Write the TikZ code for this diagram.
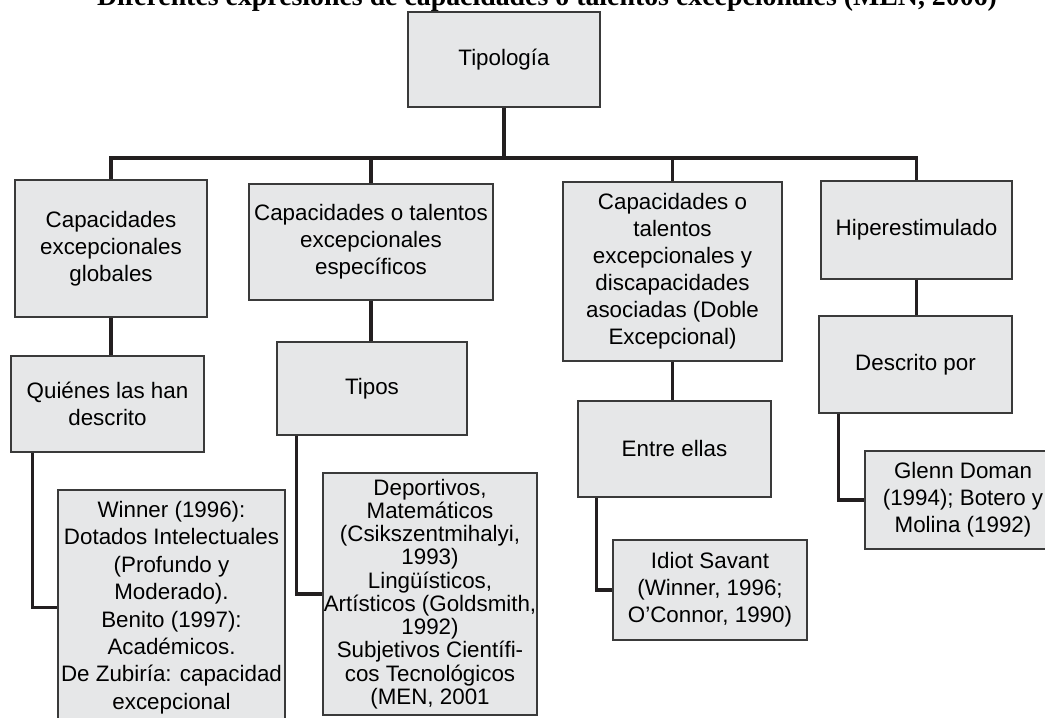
\documentclass[tikz,border=0pt]{standalone}
\usepackage{fontspec}
\setmainfont{Liberation Sans}
\newfontfamily\titlefont{Liberation Serif}
\usepackage{xcolor}

\definecolor{boxgray}{HTML}{E6E7E8}
\definecolor{edgegray}{HTML}{3A3A3A}
\definecolor{linkblack}{HTML}{231F20}

\begin{document}
\begin{tikzpicture}[x=0.025cm, y=-0.025cm,
				caja/.style={draw=edgegray, line width=0.9pt, fill=boxgray,
					align=center, inner sep=0pt,
					font=\fontsize{15.9}{19.2}\selectfont},
				enlace/.style={draw=linkblack, line width=2.4pt}]
				%\draw[help lines] (0,0) grid (1045,717);
				\useasboundingbox (0,0) rectangle (1045,717);
				
				% titulo (cortado arriba)
				\node[anchor=base, font=\titlefont\bfseries\fontsize{19.8}{22}\selectfont] (titulo) at (547,5.5)
					{Diferentes expresiones de capacidades o talentos excepcionales (MEN, 2006)};
				
				% primer nivel
				\node[caja, minimum width=4.8cm, minimum height=2.375cm] (tip) at (504,59.5) {Tipología};
				
				\node[caja, minimum width=4.8cm, minimum height=3.425cm] (glob) at (111,248.5)
					{Capacidades\\excepcionales\\globales};
				\node[caja, minimum width=6.1cm, minimum height=2.9cm] (espec) at (371,242)
					{Capacidades o talentos\\excepcionales\\específicos};
				\node[caja, minimum width=5.475cm, minimum height=4.475cm] (doble) at (672.5,271.5)
					{Capacidades o\\talentos\\excepcionales y\\discapacidades\\asociadas (Doble\\Excepcional)};
				\node[caja, minimum width=4.775cm, minimum height=2.45cm] (hiper) at (916.5,230) {Hiperestimulado};
				
				% segundo nivel
				\node[caja, minimum width=4.825cm, minimum height=2.4cm] (quien) at (107.5,404)
					{Quiénes las han\\descrito};
				\node[caja, minimum width=4.75cm, minimum height=2.325cm] (tipos) at (372,388.5) {Tipos};
				\node[caja, minimum width=4.825cm, minimum height=2.4cm] (entre) at (674.5,449) {Entre ellas};
				\node[caja, minimum width=4.825cm, minimum height=2.425cm] (descr) at (915.5,364.5) {Descrito por};
				
				% tercer nivel
				\node[caja, minimum width=5.675cm, minimum height=5.875cm,
					font=\fontsize{15.9}{19.5}\selectfont] (winner) at (171.5,607.5)
					{Winner (1996):\\Dotados Intelectuales\\(Profundo y\\Moderado).\\Benito (1997):\\Académicos.\\De Zubiría: capacidad\\excepcional};
				\node[caja, minimum width=5.35cm, minimum height=6.05cm,
					font=\fontsize{15.9}{16.5}\selectfont] (deport) at (430,594)
					{Deportivos,\\Matemáticos\\(Csikszentmihalyi,\\1993)\\Lingüísticos,\\Artísticos (Goldsmith,\\1992)\\Subjetivos Científi-\\cos Tecnológicos\\(MEN, 2001};
				\node[caja, minimum width=4.85cm, minimum height=2.5cm] (idiot) at (710,590)
					{Idiot Savant\\(Winner, 1996;\\O’Connor, 1990)};
				\node[caja, minimum width=4.9cm, minimum height=2.45cm] (glenn) at (963,500)
					{Glenn Doman\\(1994); Botero y\\Molina (1992)};
				
				% conectores
				\coordinate (bus) at (504,158);
				\draw[enlace] (tip.south) -- (bus);
				\draw[enlace] (glob.north) |- (bus);
				\draw[enlace] (hiper.north) |- (bus);
				\draw[enlace] (espec.north) -- (espec.north |- bus);
				\draw[enlace] (doble.north) -- (doble.north |- bus);
				
				\draw[enlace] (glob.south) -- (glob.south |- quien.north);
				\draw[enlace] (espec.south) -- (espec.south |- tipos.north);
				\draw[enlace] (doble.south) -- (doble.south |- entre.north);
				\draw[enlace] (hiper.south) -- (hiper.south |- descr.north);
				
				\draw[enlace] ([xshift=0.55cm]quien.south west) |- (winner.west);
				\draw[enlace] ([xshift=0.5cm]tipos.south west) |- (deport.west);
				\draw[enlace] ([xshift=0.475cm]entre.south west) |- (idiot.west);
				\draw[enlace] ([xshift=0.5cm]descr.south west) |- (glenn.west);
\end{tikzpicture}
\end{document}
